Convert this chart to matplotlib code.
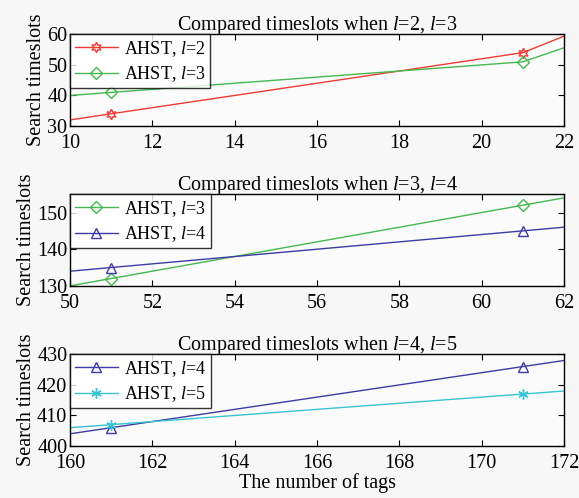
import numpy as np
import matplotlib
matplotlib.use("Agg")
import matplotlib.pyplot as plt

plt.rcParams['font.family'] = ['Liberation Serif', 'DejaVu Serif']
plt.rcParams['mathtext.fontset'] = 'custom'
plt.rcParams['mathtext.rm'] = 'Liberation Serif'
plt.rcParams['mathtext.it'] = 'Liberation Serif:italic'

# data (number of tags vs search timeslots)
x1 = [1, 11, 21, 31]
l2_a = [14, 34, 54, 108]
l3_a = [31, 41, 51, 97]

x2 = [41, 51, 61, 71]
l3_b = [112, 132, 152, 172]
l4_b = [125, 135, 145, 155]

x3 = [151, 161, 171, 181]
l4_c = [386, 406, 426, 446]
l5_c = [397, 407, 417, 427]

red = '#ee3b33'
green = '#45b84f'
blue = '#3d3ca6'
cyan = '#38c4d2'

hexagram = (6, 1, 0)
asterisk = (6, 2, 0)

fs = 14.5

fig = plt.figure(figsize=(5.79, 4.98), dpi=100, facecolor='#f7f7f7')

panels = [
    (0.747, x1, [(l2_a, red, hexagram, 2), (l3_a, green, 'D', 3)], (10, 22, 2), (30, 60, 10), (30, 60), '$l$=2, $l$=3'),
    (0.426, x2, [(l3_b, green, 'D', 3), (l4_b, blue, '^', 4)], (50, 62, 2), (130, 150, 10), (130, 155), '$l$=3, $l$=4'),
    (0.1044, x3, [(l4_c, blue, '^', 4), (l5_c, cyan, asterisk, 5)], (160, 172, 2), (400, 430, 10), (400, 430), '$l$=4, $l$=5'),
]

for bottom, xs, series, xt, yt, ylim, tt in panels:
    ax = fig.add_axes([0.121, bottom, 0.853, 0.184])
    ax.set_facecolor('#fbfbfb')
    for ys, c, m, l in series:
        ms = 7.5 if m != 'D' else 6
        ax.plot(xs, ys, color=c, lw=1.0, marker=m, ms=ms, mfc='none', mec=c, mew=1.0,
                label='AHST, $l$=%d' % l)
    ax.set_xlim(xt[0], xt[1])
    ax.set_ylim(*ylim)
    ax.set_xticks(np.arange(xt[0], xt[1] + 1, xt[2]))
    ax.set_yticks(np.arange(yt[0], yt[1] + 1, yt[2]))
    ax.tick_params(direction='in', top=True, right=True, labelsize=fs, length=4)
    ax.tick_params(axis='x', pad=6)
    ax.tick_params(axis='y', pad=2)
    ax.set_ylabel('Search timeslots', fontsize=fs, labelpad=1)
    ax.set_title('Compared timeslots when ' + tt, fontsize=fs, pad=3)
    leg = ax.legend(loc='upper left', fontsize=13, frameon=True, fancybox=False,
                    edgecolor='black', handlelength=2.4, borderaxespad=0,
                    borderpad=0.25, labelspacing=0.3, handletextpad=0.35)
    leg.get_frame().set_linewidth(1.0)
    for s in ax.spines.values():
        s.set_linewidth(1.0)

ax.set_xlabel('The number of tags', fontsize=fs, labelpad=0)

fig.savefig('out.png', dpi=100, facecolor=fig.get_facecolor())
